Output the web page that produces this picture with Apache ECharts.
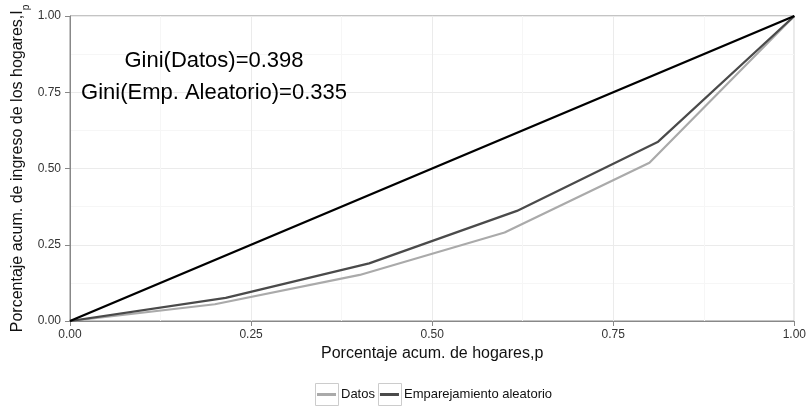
<!DOCTYPE html>
<html>
<head>
<meta charset="utf-8">
<script src="https://cdn.jsdelivr.net/npm/echarts@6/dist/echarts.min.js"></script>
<style>html,body{margin:0;padding:0;background:#fff}#c{width:809px;height:407px}</style>
</head>
<body>
<div id="c"></div>
<script>
// Data
const datosP = [0, 0.2, 0.4, 0.6, 0.8, 1.0];
const datosL = [0, 0.055, 0.151, 0.29, 0.519, 1.0];
const empP = [0, 0.215, 0.413, 0.617, 0.812, 1.0];
const empL = [0, 0.076, 0.189, 0.361, 0.588, 1.0];
const igualP = [0, 1];
const igualL = [0, 1];
const tickVals = [0, 0.25, 0.5, 0.75, 1];
const seriesNames = ['Datos', 'Emparejamiento aleatorio'];
const annot = ['Gini(Datos)=0.398', 'Gini(Emp. Aleatorio)=0.335'];

const FONT = '"Liberation Sans", Arial, Helvetica, sans-serif';
const zip = (a, b) => a.map((v, i) => [v, b[i]]);

const chart = echarts.init(document.getElementById('c'));
const axisCommon = {
  type: 'value', min: 0, max: 1, interval: 0.25,
  axisLine: { show: true, lineStyle: { color: '#888', width: 1 } },
  axisTick: { show: true, length: 5, lineStyle: { color: '#888' } },
  axisLabel: { fontFamily: FONT, fontSize: 12, color: '#333', formatter: v => v.toFixed(2) },
  splitLine: { show: true, lineStyle: { color: '#ebebeb', width: 1 } },
  minorTick: { show: false, splitNumber: 2 },
  minorSplitLine: { show: true, lineStyle: { color: '#f6f6f6', width: 1 } },
  nameLocation: 'middle',
  nameMoveOverlap: false,
  nameTextStyle: { fontFamily: FONT, fontSize: 16, color: '#111' }
};
chart.setOption({
  animation: false,
  backgroundColor: '#fff',
  grid: { left: 70, right: 12, top: 16, bottom: 86, show: true, borderColor: '#888', borderWidth: 1 },
  xAxis: Object.assign({}, axisCommon, {
    name: 'Porcentaje acum. de hogares,p', nameGap: 25,
    axisLabel: Object.assign({}, axisCommon.axisLabel, { margin: 8 })
  }),
  yAxis: Object.assign({}, axisCommon, {
    name: 'Porcentaje acum. de ingreso de los hogares,I{s|p}', nameGap: 44,
    nameTextStyle: Object.assign({}, axisCommon.nameTextStyle, {
      rich: { s: { fontFamily: FONT, fontSize: 10, color: '#111', verticalAlign: 'bottom', padding: [0,0,-5,0] } }
    }),
    axisLabel: Object.assign({}, axisCommon.axisLabel, { margin: 9 })
  }),
  legend: {
    data: seriesNames,
    left: 317, top: 388, padding: 0,
    icon: 'rect', itemWidth: 19, itemHeight: 3, itemGap: 5,
    textStyle: { fontFamily: FONT, fontSize: 13, color: '#111' }
  },
  series: [
    { name: seriesNames[0], type: 'line', data: zip(datosP, datosL), showSymbol: false, symbol: 'none',
      lineStyle: { color: '#aaaaaa', width: 2.2 }, itemStyle: { color: '#aaaaaa' }, z: 3 },
    { name: seriesNames[1], type: 'line', data: zip(empP, empL), showSymbol: false, symbol: 'none',
      lineStyle: { color: '#4a4a4a', width: 2.2 }, itemStyle: { color: '#4a4a4a' }, z: 4 },
    { name: 'Igualdad', type: 'line', data: zip(igualP, igualL), showSymbol: false, symbol: 'none',
      lineStyle: { color: '#000', width: 2.4 }, itemStyle: { color: '#000' }, z: 5 }
  ],
  graphic: [
    { type: 'text', x: 214, y: 61, z: 100, style: { text: annot[0], font: '22px ' + FONT, fill: '#000', align: 'center', verticalAlign: 'middle' } },
    { type: 'text', x: 214, y: 93, z: 100, style: { text: annot[1], font: '22px ' + FONT, fill: '#000', align: 'center', verticalAlign: 'middle' } },
    { type: 'rect', x: 315.5, y: 383.5, shape: { width: 23, height: 22 }, style: { fill: 'none', stroke: '#cccccc', lineWidth: 1 }, z: -1 },
    { type: 'rect', x: 378.5, y: 383.5, shape: { width: 23, height: 22 }, style: { fill: 'none', stroke: '#cccccc', lineWidth: 1 }, z: -1 }
  ]
});
</script>
</body>
</html>
